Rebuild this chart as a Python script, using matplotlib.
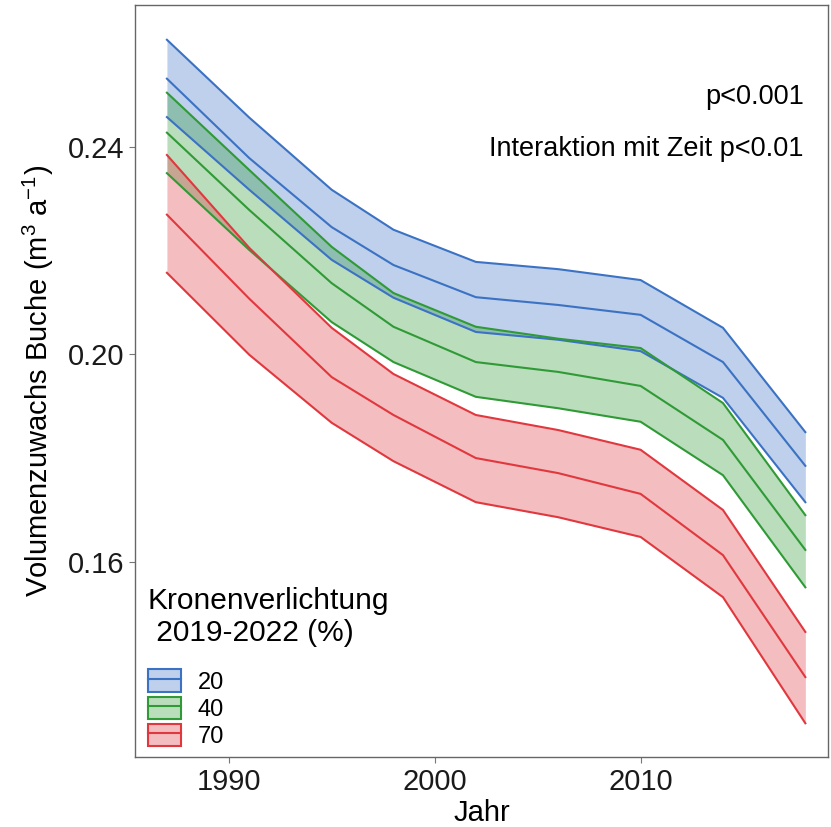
import matplotlib
matplotlib.use("Agg")
import matplotlib.pyplot as plt
from matplotlib.patches import Patch
from matplotlib.lines import Line2D

plt.rcParams['font.family'] = ['Liberation Sans', 'DejaVu Sans']
plt.rcParams['mathtext.fontset'] = 'custom'
plt.rcParams['mathtext.rm'] = 'Liberation Sans'
plt.rcParams['mathtext.it'] = 'Liberation Sans'

years = [1987, 1991, 1995, 1998, 2002, 2006, 2010, 2014, 2018]

blue_upper = [0.2606, 0.2456, 0.2317, 0.2240, 0.2178, 0.2164, 0.2143, 0.2051, 0.1850]
blue_mid   = [0.2531, 0.2378, 0.2245, 0.2172, 0.2110, 0.2095, 0.2076, 0.1985, 0.1785]
blue_lower = [0.2457, 0.2317, 0.2182, 0.2109, 0.2043, 0.2028, 0.2006, 0.1916, 0.1715]

green_upper = [0.2504, 0.2355, 0.2207, 0.2118, 0.2053, 0.2030, 0.2012, 0.1906, 0.1690]
green_mid   = [0.2427, 0.2278, 0.2137, 0.2053, 0.1985, 0.1966, 0.1939, 0.1835, 0.1623]
green_lower = [0.2349, 0.2201, 0.2062, 0.1985, 0.1918, 0.1896, 0.1870, 0.1767, 0.1551]

red_upper = [0.2384, 0.2205, 0.2051, 0.1962, 0.1883, 0.1854, 0.1816, 0.1700, 0.1465]
red_mid   = [0.2269, 0.2107, 0.1956, 0.1883, 0.1800, 0.1771, 0.1731, 0.1613, 0.1378]
red_lower = [0.2157, 0.1999, 0.1868, 0.1794, 0.1715, 0.1686, 0.1648, 0.1532, 0.1289]

group_labels = ['20', '40', '70']
colors = ['#3B72C3', '#2F9A36', '#E0383E']

series = [
    (blue_lower, blue_mid, blue_upper),
    (green_lower, green_mid, green_upper),
    (red_lower, red_mid, red_upper),
]

x_ticks = [1990, 2000, 2010]
y_ticks = [0.16, 0.20, 0.24]

fig = plt.figure(figsize=(8.31, 8.27), dpi=100)
ax = fig.add_axes([135/831, 1 - 757/827, (828 - 135)/831, (757 - 5)/827])

handles = []
for (lo, mid, hi), col, lab in zip(series, colors, group_labels):
    ax.fill_between(years, lo, hi, color=col, alpha=0.33, linewidth=0)
    ax.plot(years, hi, color=col, lw=1.5)
    ax.plot(years, lo, color=col, lw=1.5)
    ax.plot(years, mid, color=col, lw=1.5)
    handles.append((Patch(facecolor=col, alpha=0.33, edgecolor='none'),
                    Patch(facecolor='none', edgecolor=col, lw=1.5),
                    Line2D([], [], color=col, lw=1.5)))

ax.set_xlim(1985.45, 2019.1)
ax.set_ylim(0.1224, 0.2673)
ax.set_xticks(x_ticks)
ax.set_xticklabels([str(v) for v in x_ticks])
ax.set_yticks(y_ticks)
ax.set_yticklabels([f'{v:.2f}' for v in y_ticks])
ax.tick_params(axis='both', labelsize=21, length=4, width=0.8, color='#777777',
               labelcolor='#1a1a1a', pad=4)
for sp in ax.spines.values():
    sp.set_color('#666666')
    sp.set_linewidth(1.0)

ax.set_xlabel('Jahr', fontsize=21, labelpad=2)
ax.set_ylabel('Volumenzuwachs Buche (m$^{3}$ a$^{-1}$)', fontsize=21, labelpad=8)

ax.text(0.965, 0.877, 'p<0.001', transform=ax.transAxes, ha='right', va='center', fontsize=19.5)
ax.text(0.965, 0.808, 'Interaktion mit Zeit p<0.01', transform=ax.transAxes, ha='right', va='center', fontsize=19.5)

leg = ax.legend(handles, group_labels, title='Kronenverlichtung\n 2019-2022 (%)',
                loc='lower left', bbox_to_anchor=(-6/693, -10/752), frameon=True,
                fontsize=17, title_fontsize=21.5, handlelength=1.4, handleheight=1.1,
                labelspacing=0.12, handletextpad=0.7, borderpad=0.3,
                alignment='left', fancybox=False)
leg._legend_box.sep = 16
leg.get_frame().set_edgecolor('none')
leg.get_frame().set_facecolor('white')
leg.get_frame().set_alpha(1.0)

fig.savefig('out.png', dpi=100)
